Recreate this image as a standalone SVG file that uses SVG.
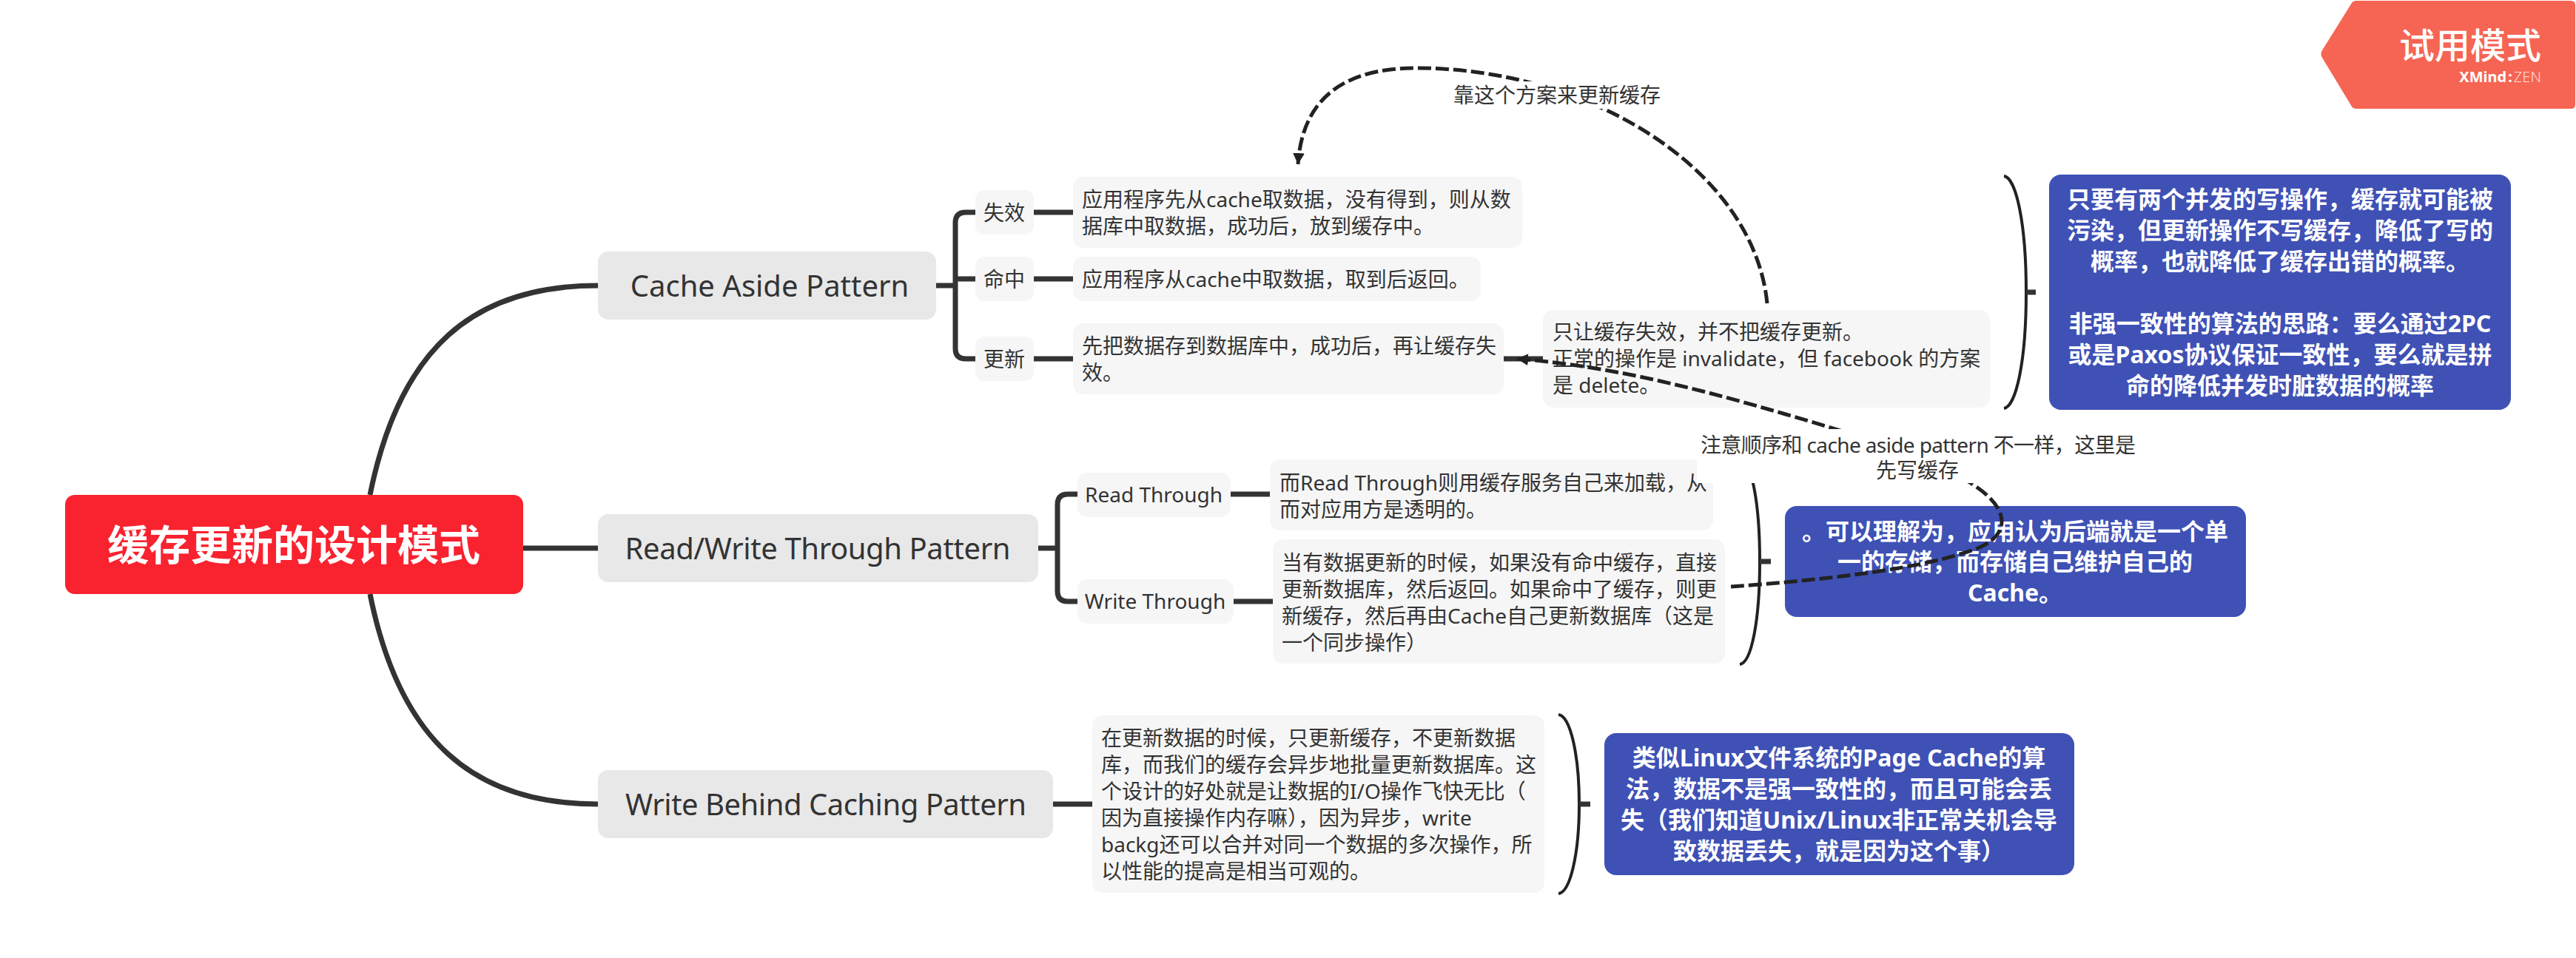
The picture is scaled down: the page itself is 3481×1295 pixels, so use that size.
<svg xmlns="http://www.w3.org/2000/svg" width="3481" height="1295" viewBox="0 0 3481 1295">
<defs>
<style>
text{font-family:"Noto Sans","Noto Sans CJK SC",sans-serif;dominant-baseline:central;fill:#333}
.t{fill:#e8e8e8}.s{fill:#f6f6f6}.b{fill:#3f51b5}
.tt{font-size:40px;text-anchor:middle}
.st{font-size:28px;text-anchor:middle}
.x{font-size:28px}
.w{font-size:32px;font-weight:700;fill:#fff;text-anchor:middle}
.l{font-size:28px;text-anchor:middle}
.line{fill:none;stroke:#333;stroke-width:7}
.thin{fill:none;stroke:#333;stroke-width:7}
.brace{fill:none;stroke:#222;stroke-width:4}
.dash{fill:none;stroke:#222;stroke-width:5;stroke-dasharray:18 6}
</style>
<marker id="arrow" markerUnits="userSpaceOnUse" markerWidth="18" markerHeight="18" refX="15" refY="8" orient="auto"><path d="M0,0L15,8L0,16z" fill="#222"/></marker>
</defs>
<rect width="3481" height="1295" fill="#fff"/>
<g id="branches">
<path class="line" d="M500,669C540,470 640,386 808,386"/>
<path class="line" d="M707,741H808"/>
<path class="line" d="M500,803C540,1002 640,1087 808,1087"/>
<path class="thin" d="M1265,386H1291"/>
<path class="thin" d="M1318,287H1305Q1291,287 1291,301V471Q1291,485 1305,485H1318M1291,377H1318"/>
<path class="thin" d="M1397,287H1450M1397,377H1450M1397,485H1450M2032,485H2085"/>
<path class="thin" d="M1403,741H1429"/>
<path class="thin" d="M1456,668H1443Q1429,668 1429,682V799Q1429,813 1443,813H1456"/>
<path class="thin" d="M1663,668H1716M1667,813H1720"/>
<path class="thin" d="M1423,1087H1476"/>
</g>
<g id="root"><rect x="88" y="669" width="619" height="134" rx="13" fill="#f9222f"/><text x="397" y="735" font-size="56" font-weight="700" text-anchor="middle" style="fill:#fff">缓存更新的设计模式</text></g>
<g id="n-cache"><rect class="t" x="808" y="340" width="457" height="92" rx="14"/><text class="tt" x="1040" y="385">Cache Aside Pattern</text></g>
<g id="n-rw"><rect class="t" x="808" y="695" width="595" height="92" rx="14"/><text class="tt" x="1105" y="740" textLength="521">Read/Write Through Pattern</text></g>
<g id="n-wb"><rect class="t" x="808" y="1041" width="615" height="92" rx="14"/><text class="tt" x="1116" y="1086" textLength="542">Write Behind Caching Pattern</text></g>
<g id="n-invalid"><rect class="s" x="1318" y="257" width="79" height="60" rx="12"/><text class="st" x="1357" y="287">失效</text></g>
<g id="n-hit"><rect class="s" x="1318" y="347" width="79" height="60" rx="12"/><text class="st" x="1357" y="377">命中</text></g>
<g id="n-update"><rect class="s" x="1318" y="455" width="79" height="60" rx="12"/><text class="st" x="1357" y="485">更新</text></g>
<g id="n-invalid-t"><rect class="s" x="1450" y="239" width="607" height="96" rx="14"/><text class="x" x="1462" y="269">应用程序先从cache取数据，没有得到，则从数</text><text class="x" x="1462" y="305">据库中取数据，成功后，放到缓存中。</text></g>
<g id="n-hit-t"><rect class="s" x="1450" y="347" width="551" height="60" rx="14"/><text class="x" x="1462" y="377">应用程序从cache中取数据，取到后返回。</text></g>
<g id="n-update-t"><rect class="s" x="1450" y="437" width="582" height="96" rx="14"/><text class="x" x="1462" y="467">先把数据存到数据库中，成功后，再让缓存失</text><text class="x" x="1462" y="503">效。</text></g>
<g id="n-note"><rect class="s" x="2085" y="419" width="604" height="132" rx="14"/><text class="x" x="2098" y="448">只让缓存失效，并不把缓存更新。</text><text class="x" x="2098" y="484">正常的操作是 invalidate，但 facebook 的方案</text><text class="x" x="2098" y="520">是 delete。</text></g>
<g id="n-sum1"><path class="brace" d="M2708,238C2724,240 2738,300 2738,395C2738,490 2724,550 2708,552"/><path class="thin" d="M2738,395H2751"/><rect class="b" x="2769" y="236" width="624" height="318" rx="16"/>
<text class="w" x="3081" y="268">只要有两个并发的写操作，缓存就可能被</text><text class="w" x="3081" y="310">污染，但更新操作不写缓存，降低了写的</text><text class="w" x="3081" y="352">概率，也就降低了缓存出错的概率。</text><text class="w" x="3081" y="436">非强一致性的算法的思路：要么通过2PC</text><text class="w" x="3081" y="478">或是Paxos协议保证一致性，要么就是拼</text><text class="w" x="3081" y="520">命的降低并发时脏数据的概率</text></g>
<g id="n-rt"><rect class="s" x="1456" y="639" width="207" height="60" rx="14"/><text class="st" x="1559" y="668">Read Through</text></g>
<g id="n-wt"><rect class="s" x="1456" y="783" width="211" height="60" rx="14"/><text class="st" x="1561" y="812">Write Through</text></g>
<g id="n-rt-t"><rect class="s" x="1716" y="621" width="599" height="96" rx="14"/><text class="x" x="1729" y="652">而Read Through则用缓存服务自己来加载，从</text><text class="x" x="1729" y="688">而对应用方是透明的。</text></g>
<g id="n-wt-t"><rect class="s" x="1720" y="729" width="611" height="168" rx="14"/><text class="x" x="1732" y="760">当有数据更新的时候，如果没有命中缓存，直接</text><text class="x" x="1732" y="796">更新数据库，然后返回。如果命中了缓存，则更</text><text class="x" x="1732" y="832">新缓存，然后再由Cache自己更新数据库（这是</text><text class="x" x="1732" y="868">一个同步操作）</text></g>
<g id="n-sum2"><path class="brace" d="M2351,620C2367,622 2378,680 2378,759C2378,838 2367,896 2351,898"/><path class="thin" d="M2378,759H2393"/><rect class="b" x="2412" y="684" width="623" height="150" rx="16"/>
<text class="w" x="2723" y="717">。可以理解为，应用认为后端就是一个单</text><text class="w" x="2723" y="758">一的存储，而存储自己维护自己的</text><text class="w" x="2723" y="800">Cache。</text></g>
<g id="n-wb-t"><rect class="s" x="1476" y="967" width="611" height="240" rx="14"/><text class="x" x="1488" y="997">在更新数据的时候，只更新缓存，不更新数据</text><text class="x" x="1488" y="1033">库，而我们的缓存会异步地批量更新数据库。这</text><text class="x" x="1488" y="1069">个设计的好处就是让数据的I/O操作飞快无比（</text><text class="x" x="1488" y="1105">因为直接操作内存嘛），因为异步，write</text><text class="x" x="1488" y="1141">backg还可以合并对同一个数据的多次操作，所</text><text class="x" x="1488" y="1177">以性能的提高是相当可观的。</text></g>
<g id="n-sum3"><path class="brace" d="M2106,966C2122,968 2134,1020 2134,1087C2134,1154 2122,1206 2106,1208"/><path class="thin" d="M2134,1087H2149"/><rect class="b" x="2168" y="991" width="635" height="192" rx="16"/>
<text class="w" x="2485" y="1023">类似Linux文件系统的Page Cache的算</text><text class="w" x="2485" y="1065">法，数据不是强一致性的，而且可能会丢</text><text class="w" x="2485" y="1107">失（我们知道Unix/Linux非正常关机会导</text><text class="w" x="2485" y="1149">致数据丢失，就是因为这个事）</text></g>
<g id="connectors">
<path class="dash" marker-end="url(#arrow)" d="M2388,410C2370,230 2150,92 1913,92C1820,92 1760,130 1754,222"/>
<path class="dash" marker-end="url(#arrow)" d="M2339,793C2460,784 2600,770 2675,740C2712,724 2722,690 2663,653C2610,620 2540,597 2413,560C2300,527 2180,495 2050,485"/>
</g>
<g id="label-1"><rect x="1960" y="110" width="288" height="37" fill="#fff"/><text class="l" x="2104" y="128">靠这个方案来更新缓存</text></g>
<g id="label-2"><rect x="2293" y="580" width="597" height="73" fill="#fff"/><text class="l" x="2592" y="601" textLength="588">注意顺序和 cache aside pattern 不一样，这里是</text><text class="l" x="2591" y="635">先写缓存</text></g>
<g id="badge"><path d="M3178,4Q3180,1 3184,1H3474Q3480,1 3480,7V141Q3480,147 3474,147H3184Q3180,147 3178,144L3138,78Q3135,73 3138,68Z" fill="#f66553"/><text x="3434" y="60" font-size="48" font-weight="500" text-anchor="end" style="fill:#fff">试用模式</text><text x="3434" y="103" font-size="20" text-anchor="end" style="fill:#fff"><tspan font-weight="700">XMind</tspan><tspan font-weight="700" dx="2">:</tspan><tspan font-weight="300" dx="2" fill-opacity="0.8">ZEN</tspan></text></g>
</svg>
